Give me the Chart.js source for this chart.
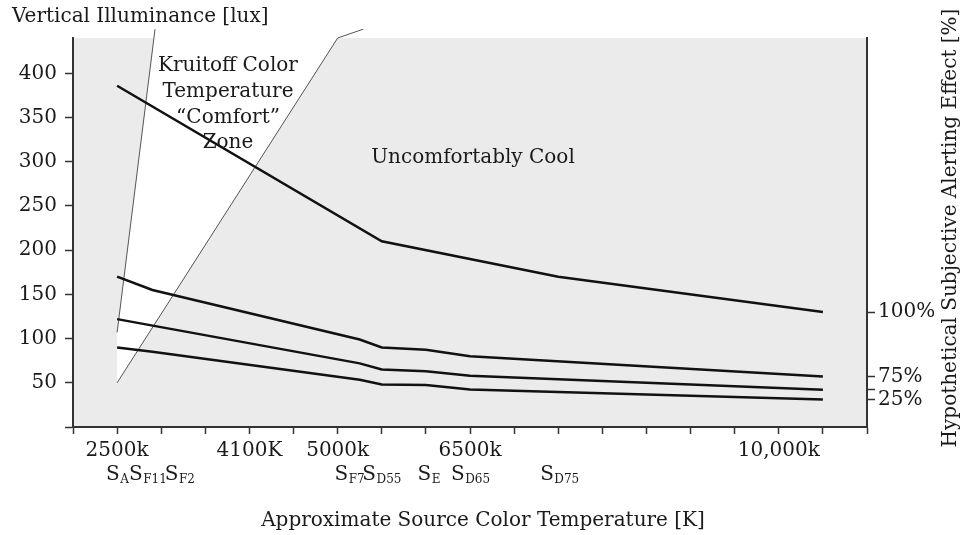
<!DOCTYPE html>
<html>
<head>
<meta charset="utf-8">
<title>Vertical Illuminance vs Source Color Temperature</title>
<script src="https://cdn.jsdelivr.net/npm/chart.js@4.4.1/dist/chart.umd.min.js"></script>
<style>
    body { margin: 0; background: #fff; }
    .chart-box { width: 963px; height: 535px; position: relative; }
</style>
</head>
<body>
<div class="chart-box"><canvas id="luxChart"></canvas></div>
<script>
// x values are axis steps (one tick mark = one step, 0..18)
const xTickPos = [1, 4, 6, 9, 16];
const xTickLabels = ['2500k', '4100K', '5000k', '6500k', '10,000k'];
const yTickValues = [0, 50, 100, 150, 200, 250, 300, 350, 400];
const alertTickValues = [130, 57, 42, 31];
const alertTickLabels = ['100%', '75%', '', '25%'];

// lux curves, top to bottom
const line100X = [1, 7, 11, 17];
const line100Y = [386, 210, 170, 130];
const line75X = [1, 1.8, 6.5, 7, 8, 9, 17];
const line75Y = [170, 155, 99, 90, 87.5, 80, 57];
const line50X = [1, 6.5, 7, 8, 9, 17];
const line50Y = [122, 72, 65, 63, 58, 42];
const line25X = [1, 1.8, 6.5, 7, 8, 9, 17];
const line25Y = [90, 85, 53.5, 48, 47.5, 42.5, 31];

// Kruitoff comfort zone borders
const zoneLeftX = [1, 1.86];
const zoneLeftY = [107, 450];
const zoneRightX = [1, 6, 6.58];
const zoneRightY = [50, 440, 450];

// reference illuminants under the axis
const sourceNames = ['A', 'F11', 'F2', 'F7', 'D55', 'E', 'D65', 'D75'];
const sourceX = [0.75, 1.27, 2.08, 5.93, 6.56, 7.81, 8.57, 10.59];

const FONT = '"DejaVu Serif", "Liberation Serif", serif';
const INK = '#1a1a1a';
const AXIS = '#333';

function points(xs, ys) {
    return xs.map((x, i) => ({x: x, y: ys[i]}));
}

function curve(xs, ys) {
    return {
        data: points(xs, ys),
        borderColor: '#111',
        borderWidth: 2.5,
        pointRadius: 0,
        fill: false,
        tension: 0
    };
}

function border(xs, ys) {
    return {
        data: points(xs, ys),
        borderColor: '#555',
        borderWidth: 1,
        pointRadius: 0,
        fill: false,
        clip: false
    };
}

// zone polygon: left border up, right border back down
const zoneShape = points(zoneLeftX, zoneLeftY)
    .concat(points(zoneRightX, zoneRightY).reverse());

const extraText = {
    id: 'extraText',
    beforeDraw(chart) {
        const {ctx, chartArea} = chart;
        ctx.save();
        ctx.fillStyle = '#ebebeb';
        ctx.fillRect(chartArea.left, chartArea.top,
            chartArea.right - chartArea.left, chartArea.bottom - chartArea.top);
        ctx.restore();
    },
    afterDraw(chart) {
        const {ctx} = chart;
        const xs = chart.scales.x;
        ctx.save();
        ctx.fillStyle = INK;
        ctx.font = '20px ' + FONT;
        ctx.textBaseline = 'middle';

        ctx.textAlign = 'left';
        ctx.fillText('Vertical Illuminance [lux]', 12, 17);

        ctx.textAlign = 'center';
        ['Kruitoff Color', 'Temperature', '\u201cComfort\u201d', 'Zone'].forEach((t, i) => {
            ctx.fillText(t, 228, 66 + i * 25.7);
        });
        ctx.fillText('Uncomfortably Cool', 473, 158);
        ctx.fillText('Approximate Source Color Temperature [K]', 483, 521);

        // S with subscript for each source
        ctx.textAlign = 'left';
        ctx.textBaseline = 'alphabetic';
        sourceNames.forEach((name, i) => {
            const x = xs.getPixelForValue(sourceX[i]);
            ctx.font = '20px ' + FONT;
            ctx.fillText('S', x, 480);
            const w = ctx.measureText('S').width;
            ctx.font = '12px ' + FONT;
            ctx.fillText(name, x + w + 0.5, 483);
        });

        // right title reads bottom to top
        ctx.translate(951, 228);
        ctx.rotate(-Math.PI / 2);
        ctx.textAlign = 'center';
        ctx.textBaseline = 'middle';
        ctx.font = '20px ' + FONT;
        ctx.fillText('Hypothetical Subjective Alerting Effect [%]', 0, 0);
        ctx.restore();
    }
};

const ctx = document.getElementById('luxChart');

new Chart(ctx, {
    type: 'line',
    data: {
        datasets: [
            curve(line100X, line100Y),
            curve(line75X, line75Y),
            curve(line50X, line50Y),
            curve(line25X, line25Y),
            border(zoneLeftX, zoneLeftY),
            border(zoneRightX, zoneRightY),
            {
                data: zoneShape,
                borderWidth: 0,
                borderColor: 'rgba(0,0,0,0)',
                backgroundColor: '#fff',
                pointRadius: 0,
                fill: 'shape'
            }
        ]
    },
    options: {
        responsive: true,
        maintainAspectRatio: false,
        animation: false,
        layout: {
            padding: {top: 38, left: 0, right: 0, bottom: 0}
        },
        plugins: {
            legend: {display: false},
            tooltip: {enabled: false}
        },
        scales: {
            x: {
                type: 'linear',
                min: 0,
                max: 18,
                afterBuildTicks: s => {
                    s.ticks = [];
                    for (let i = 0; i <= 18; i++) s.ticks.push({value: i});
                },
                afterFit: s => { s.height = 108; },
                grid: {drawOnChartArea: false, tickLength: 7, color: AXIS, tickWidth: 1.5},
                border: {color: AXIS, width: 2},
                ticks: {
                    autoSkip: false,
                    maxRotation: 0,
                    padding: 5,
                    color: INK,
                    font: {family: FONT, size: 20},
                    callback: v => {
                        const i = xTickPos.indexOf(v);
                        return i >= 0 ? xTickLabels[i] : '';
                    }
                }
            },
            y: {
                position: 'left',
                min: 0,
                max: 440,
                afterBuildTicks: s => { s.ticks = yTickValues.map(v => ({value: v})); },
                afterFit: s => { s.width = 73; },
                grid: {drawOnChartArea: false, tickLength: 8, color: AXIS, tickWidth: 1.5},
                border: {color: AXIS, width: 2},
                ticks: {
                    padding: 8,
                    color: INK,
                    font: {family: FONT, size: 20},
                    callback: v => v === 0 ? '' : v
                }
            },
            y2: {
                position: 'right',
                min: 0,
                max: 440,
                afterBuildTicks: s => { s.ticks = alertTickValues.map(v => ({value: v})); },
                afterFit: s => { s.width = 96; },
                grid: {drawOnChartArea: false, tickLength: 8, color: AXIS, tickWidth: 1.5},
                border: {color: AXIS, width: 2},
                ticks: {
                    padding: 3,
                    color: INK,
                    font: {family: FONT, size: 20},
                    callback: (v, i) => alertTickLabels[i]
                }
            }
        }
    },
    plugins: [extraText]
});
</script>
</body>
</html>
